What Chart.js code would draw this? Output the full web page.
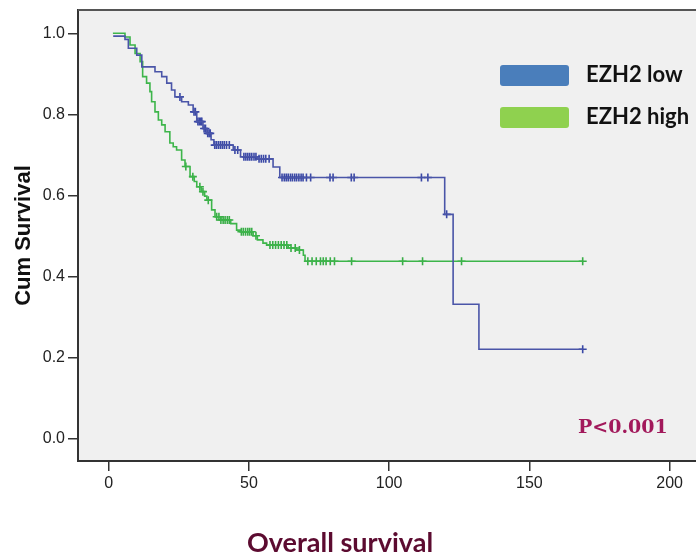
<!DOCTYPE html>
<html>
<head>
<meta charset="utf-8">
<script src="https://cdn.jsdelivr.net/npm/chart.js@4.4.1/dist/chart.umd.min.js"></script>
<style>
  html, body { margin: 0; padding: 0; background: #fff; overflow: hidden; }
  #wrap { width: 696px; height: 555px; position: relative; }
</style>
</head>
<body>
<div id="wrap"><canvas id="km"></canvas></div>
<script>
// Kaplan-Meier steps (time in months, cumulative survival)
const lowTimes = [1.6, 5.8, 7, 10, 11.8, 16.5, 18.9, 20.7, 22.4, 23.6, 26, 28.4, 30.1, 31.4, 33.6, 35, 36.5, 37.5, 44.4, 47, 53, 58.6, 61, 119.8, 122.8, 132, 169];
const lowSurv  = [0.993, 0.985, 0.963, 0.946, 0.917, 0.905, 0.893, 0.877, 0.86, 0.843, 0.831, 0.823, 0.806, 0.782, 0.765, 0.753, 0.737, 0.724, 0.712, 0.695, 0.69, 0.67, 0.644, 0.553, 0.331, 0.22, 0.22];

const highTimes = [1.5, 5.8, 7.6, 9.4, 11.2, 12.1, 13.5, 14.7, 15.3, 16.5, 17.7, 18.9, 20.1, 21.8, 23, 24.2, 26, 27.2, 29, 30.5, 31.4, 33, 34.2, 35, 36.7, 37.9, 40, 43.5, 45.6, 47, 51.5, 53, 55, 56.3, 64, 67, 69.4, 70, 169];
const highSurv  = [1.0, 0.991, 0.971, 0.95, 0.93, 0.893, 0.877, 0.856, 0.831, 0.806, 0.786, 0.774, 0.757, 0.729, 0.72, 0.712, 0.687, 0.671, 0.646, 0.634, 0.621, 0.609, 0.598, 0.588, 0.564, 0.547, 0.539, 0.53, 0.514, 0.51, 0.5, 0.49, 0.482, 0.477, 0.47, 0.465, 0.452, 0.437, 0.437];

// censored cases (time only, survival is taken from the curve)
const lowCensor = [25.4, 30.4, 30.9, 31.8, 32.3, 32.8, 33.2, 34, 34.5, 35.3, 35.8, 36.2, 37.8, 38.4, 39.1, 39.8, 40.5, 41.2, 42, 43, 45, 46, 48.2, 48.9, 49.6, 50.3, 51, 51.8, 52.5, 53.6, 54.4, 55.2, 56, 57.2, 61.8, 62.6, 63.3, 64, 64.8, 65.5, 66.3, 67, 67.8, 68.6, 69.3, 70.5, 72, 78.9, 80, 86.5, 87.5, 111.5, 113.8, 120.5, 169];
const highCensor = [27.5, 30, 32.5, 33.6, 35.5, 38.5, 39.3, 40, 40.8, 41.5, 42.3, 43, 47.3, 48, 48.8, 49.6, 50.3, 51, 52.5, 57.5, 58.5, 59.5, 60.5, 61.5, 62.5, 63.5, 65, 66.5, 68, 71, 72.5, 74, 75.5, 76.5, 77.5, 79, 80.5, 86.6, 104.8, 111.9, 125.8, 169];

const xTicks = [0, 50, 100, 150, 200];
const yTicks = [0, 0.2, 0.4, 0.6, 0.8, 1.0];
const seriesNames = ['EZH2 low', 'EZH2 high'];
const pValue = 'P<0.001';

function survAt(times, surv, t) {
    let s = surv[0];
    for (let i = 0; i < times.length; i++) {
        if (times[i] <= t) s = surv[i];
    }
    return s;
}

function steps(times, surv) {
    return times.map((t, i) => ({ x: t, y: surv[i] }));
}

function marks(censor, times, surv) {
    return censor.map(t => ({ x: t, y: survAt(times, surv, t) }));
}

const decorPlugin = {
    id: 'decor',
    beforeDraw(chart) {
        const { ctx, chartArea: a } = chart;
        ctx.save();
        ctx.fillStyle = '#f0f0f0';
        ctx.fillRect(a.left, a.top, a.right - a.left, a.bottom - a.top);
        ctx.restore();
    },
    afterDraw(chart) {
        const { ctx, chartArea: a } = chart;
        ctx.save();
        // top frame line
        ctx.strokeStyle = '#555';
        ctx.lineWidth = 2;
        ctx.beginPath();
        ctx.moveTo(a.left, a.top);
        ctx.lineTo(a.right, a.top);
        ctx.stroke();

        // legend
        const boxes = [['#4a7ebb', 65], ['#8fd14f', 107]];
        boxes.forEach(([c, y], i) => {
            ctx.fillStyle = c;
            ctx.beginPath();
            ctx.roundRect(500, y, 69, 21, 3);
            ctx.fill();
            ctx.fillStyle = '#111';
            ctx.font = 'bold 22px Lato';
            ctx.textBaseline = 'alphabetic';
            ctx.textAlign = 'left';
            ctx.fillText(seriesNames[i], 586, y + 17);
        });

        // p value
        ctx.fillStyle = '#a2195b';
        ctx.font = 'bold 19px "DejaVu Serif"';
        ctx.fillText(pValue, 578, 433);

        // x axis title
        ctx.fillStyle = '#5c0b30';
        ctx.font = 'bold 27px Lato';
        ctx.textAlign = 'center';
        ctx.fillText('Overall survival', 340, 552);
        ctx.restore();
    }
};

new Chart(document.getElementById('km'), {
    type: 'line',
    data: {
        datasets: [
            {
                label: seriesNames[0],
                data: steps(lowTimes, lowSurv),
                stepped: true,
                borderColor: '#4a55a8',
                borderWidth: 1.6,
                pointRadius: 0,
                fill: false
            },
            {
                label: seriesNames[1],
                data: steps(highTimes, highSurv),
                stepped: true,
                borderColor: '#3db54a',
                borderWidth: 1.6,
                pointRadius: 0,
                fill: false
            },
            {
                label: 'low censored',
                data: marks(lowCensor, lowTimes, lowSurv),
                showLine: false,
                pointStyle: 'cross',
                pointRadius: 4,
                pointBorderWidth: 1.6,
                pointBorderColor: '#3a48a6'
            },
            {
                label: 'high censored',
                data: marks(highCensor, highTimes, highSurv),
                showLine: false,
                pointStyle: 'cross',
                pointRadius: 4,
                pointBorderWidth: 1.6,
                pointBorderColor: '#38ad46'
            }
        ]
    },
    options: {
        responsive: true,
        maintainAspectRatio: false,
        animation: false,
        layout: { autoPadding: false, padding: { top: 10, right: 0, left: 0, bottom: 0 } },
        plugins: {
            legend: { display: false },
            tooltip: { enabled: false }
        },
        scales: {
            x: {
                type: 'linear',
                min: -10.95,
                max: 209.4,
                afterBuildTicks: s => { s.ticks = xTicks.map(v => ({ value: v })); },
                afterFit: s => { s.height = 94; s.paddingLeft = 0; s.paddingRight = 0; },
                grid: { drawOnChartArea: false, drawTicks: true, tickLength: 10, color: '#333', lineWidth: 1.5 },
                border: { display: true, color: '#333', width: 2 },
                ticks: { color: '#222', font: { family: 'Liberation Sans', size: 16 }, padding: 3, maxRotation: 0 }
            },
            y: {
                min: -0.056,
                max: 1.0575,
                afterBuildTicks: s => { s.ticks = yTicks.map(v => ({ value: v })); },
                afterFit: s => { s.width = 78; s.paddingTop = 0; s.paddingBottom = 0; },
                grid: { drawOnChartArea: false, drawTicks: true, tickLength: 10, color: '#333', lineWidth: 1.5 },
                border: { display: true, color: '#333', width: 2 },
                ticks: {
                    color: '#222',
                    font: { family: 'Liberation Sans', size: 16 },
                    padding: 3,
                    callback: v => v.toFixed(1)
                },
                title: {
                    display: true,
                    text: 'Cum Survival',
                    color: '#111',
                    font: { family: 'Liberation Sans', size: 22, weight: 'bold', lineHeight: 1.2 },
                    padding: { top: 11, bottom: 0 }
                }
            }
        }
    },
    plugins: [decorPlugin]
});
</script>
</body>
</html>
